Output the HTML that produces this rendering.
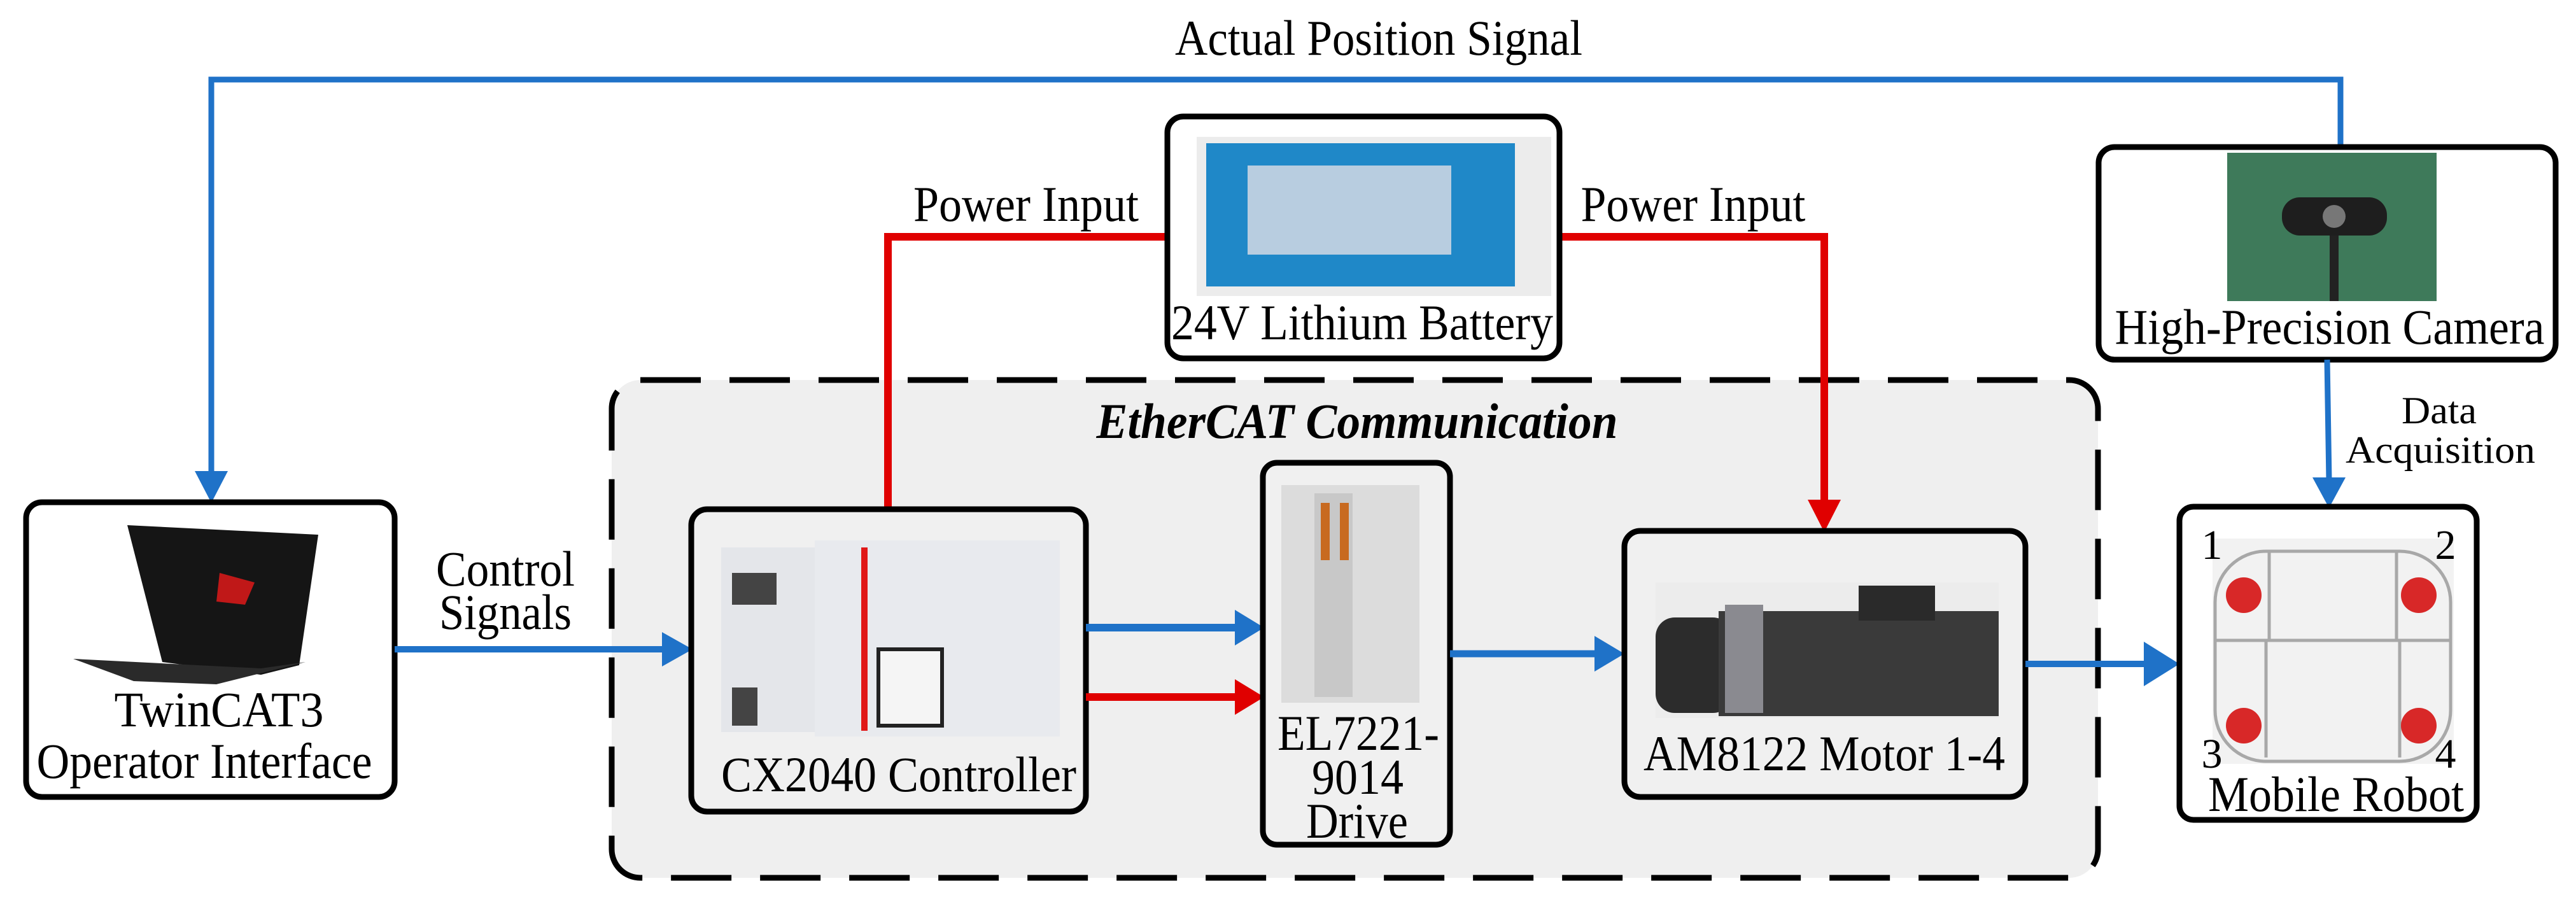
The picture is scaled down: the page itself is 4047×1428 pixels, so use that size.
<!DOCTYPE html>
<html><head><meta charset="utf-8"><style>html,body{margin:0;padding:0;background:#fff}svg{display:block}svg text{font-family:"Liberation Serif","Times New Roman","Tinos","DejaVu Serif","Noto Serif CJK SC",serif}</style></head><body>
<svg width="4047" height="1428" viewBox="0 0 4047 1428" xmlns="http://www.w3.org/2000/svg" fill="#000">
<rect x="961" y="597" width="2335" height="782" rx="45" fill="#efefef"/>
<rect x="961" y="597" width="2335" height="782" rx="45" fill="none" stroke="#000" stroke-width="9" stroke-dasharray="95,45"/>
<text x="2132" y="688" font-size="78" font-weight="bold" font-style="italic" text-anchor="middle" textLength="819" lengthAdjust="spacingAndGlyphs">EtherCAT  Communication</text>

<polyline points="3677,231 3677,125 332,125 332,745" fill="none" stroke="#1f72c8" stroke-width="9"/>
<polygon points="306,740 358,740 332,790" fill="#1f72c8"/>
<text x="2166" y="86" font-size="78" text-anchor="middle" textLength="640" lengthAdjust="spacingAndGlyphs">Actual Position Signal</text>

<polyline points="1834,372 1395,372 1395,830" fill="none" stroke="#e00000" stroke-width="12"/>
<polygon points="1369,825 1421,825 1395,878" fill="#e00000"/>
<text x="1612" y="347" font-size="78" text-anchor="middle" textLength="354" lengthAdjust="spacingAndGlyphs">Power Input</text>
<polyline points="2450,372 2866,372 2866,790" fill="none" stroke="#e00000" stroke-width="12"/>
<polygon points="2840,785 2892,785 2866,836" fill="#e00000"/>
<text x="2660" y="347" font-size="78" text-anchor="middle" textLength="353" lengthAdjust="spacingAndGlyphs">Power Input</text>

<rect x="41" y="789" width="579" height="463" rx="25" fill="#fff" stroke="#000" stroke-width="9"/>
<polygon points="200,825 500,840 470,1045 410,1060 255,1040" fill="#151515"/>
<polygon points="115,1035 410,1050 480,1040 340,1075 210,1070" fill="#2a2a2a"/>
<polygon points="345,900 400,915 385,950 340,945" fill="#c01818"/>
<text x="344" y="1141" font-size="78" text-anchor="middle" textLength="329" lengthAdjust="spacingAndGlyphs">TwinCAT3</text>
<text x="321" y="1222" font-size="78" text-anchor="middle" textLength="527" lengthAdjust="spacingAndGlyphs">Operator Interface</text>

<line x1="620" y1="1020" x2="1045" y2="1020" stroke="#1f72c8" stroke-width="10"/>
<polygon points="1040,993 1088,1020 1040,1047" fill="#1f72c8"/>
<text x="794" y="920" font-size="78" text-anchor="middle" textLength="218" lengthAdjust="spacingAndGlyphs">Control</text>
<text x="794" y="988" font-size="78" text-anchor="middle" textLength="208" lengthAdjust="spacingAndGlyphs">Signals</text>

<rect x="1834" y="183" width="616" height="380" rx="25" fill="#fff" stroke="#000" stroke-width="9"/>
<rect x="1880" y="215" width="557" height="250" fill="#ececec"/>
<rect x="1895" y="225" width="485" height="225" fill="#1f88c8"/>
<rect x="1960" y="260" width="320" height="140" fill="#b8cde0"/>
<text x="2140" y="533" font-size="78" text-anchor="middle" textLength="600" lengthAdjust="spacingAndGlyphs">24V Lithium Battery</text>

<rect x="3297" y="231" width="718" height="334" rx="25" fill="#fff" stroke="#000" stroke-width="9"/>
<rect x="3499" y="240" width="329" height="233" fill="#3e7a5a"/>
<rect x="3585" y="310" width="165" height="60" rx="28" fill="#1e1e1e"/>
<rect x="3660" y="370" width="14" height="103" fill="#222"/>
<circle cx="3667" cy="340" r="18" fill="#777"/>
<text x="3660" y="540" font-size="78" text-anchor="middle" textLength="675" lengthAdjust="spacingAndGlyphs">High-Precision Camera</text>

<line x1="3656" y1="565" x2="3659" y2="755" stroke="#1f72c8" stroke-width="9"/>
<polygon points="3633,750 3685,750 3659,798" fill="#1f72c8"/>
<text x="3832" y="665" font-size="60" text-anchor="middle" textLength="118" lengthAdjust="spacingAndGlyphs">Data</text>
<text x="3834" y="727" font-size="60" text-anchor="middle" textLength="298" lengthAdjust="spacingAndGlyphs">Acquisition</text>

<rect x="1086" y="800" width="620" height="475" rx="25" fill="#f0f0f0" stroke="#000" stroke-width="9"/>
<rect x="1133" y="860" width="160" height="290" fill="#e4e6ea"/>
<rect x="1280" y="849" width="385" height="308" fill="#e8eaee"/>
<rect x="1353" y="860" width="10" height="288" fill="#e01818"/>
<rect x="1380" y="1020" width="100" height="120" fill="#f5f5f5" stroke="#222" stroke-width="6"/>
<rect x="1150" y="900" width="70" height="50" fill="#444"/>
<rect x="1150" y="1080" width="40" height="60" fill="#444"/>
<text x="1412" y="1243" font-size="78" text-anchor="middle" textLength="558" lengthAdjust="spacingAndGlyphs">CX2040 Controller</text>

<line x1="1706" y1="986" x2="1945" y2="986" stroke="#1f72c8" stroke-width="12"/>
<polygon points="1940,958 1986,986 1940,1014" fill="#1f72c8"/>
<line x1="1706" y1="1095" x2="1945" y2="1095" stroke="#e00000" stroke-width="12"/>
<polygon points="1940,1067 1986,1095 1940,1123" fill="#e00000"/>

<rect x="1984" y="727" width="294" height="600" rx="22" fill="#f0f0f0" stroke="#000" stroke-width="9"/>
<rect x="2013" y="762" width="217" height="342" fill="#dcdcdc"/>
<rect x="2065" y="775" width="60" height="320" fill="#c8c8c8"/>
<rect x="2075" y="790" width="14" height="90" fill="#c86a20"/>
<rect x="2105" y="790" width="14" height="90" fill="#c86a20"/>
<text x="2134" y="1178" font-size="78" text-anchor="middle" textLength="254" lengthAdjust="spacingAndGlyphs">EL7221-</text>
<text x="2133" y="1247" font-size="78" text-anchor="middle" textLength="144" lengthAdjust="spacingAndGlyphs">9014</text>
<text x="2132" y="1316" font-size="78" text-anchor="middle" textLength="160" lengthAdjust="spacingAndGlyphs">Drive</text>

<line x1="2278" y1="1027" x2="2510" y2="1027" stroke="#1f72c8" stroke-width="11"/>
<polygon points="2505,999 2552,1027 2505,1055" fill="#1f72c8"/>

<rect x="2552" y="834" width="630" height="418" rx="25" fill="#f0f0f0" stroke="#000" stroke-width="9"/>
<rect x="2601" y="915" width="539" height="213" fill="#ececec"/>
<rect x="2601" y="970" width="120" height="150" rx="30" fill="#2c2c2c"/>
<rect x="2700" y="960" width="440" height="165" fill="#3a3a3a"/>
<rect x="2710" y="950" width="60" height="170" fill="#8a8a90"/>
<rect x="2920" y="920" width="120" height="55" fill="#2a2a2a"/>
<text x="2866" y="1210" font-size="78" text-anchor="middle" textLength="568" lengthAdjust="spacingAndGlyphs">AM8122 Motor 1-4</text>

<line x1="3182" y1="1043" x2="3375" y2="1043" stroke="#1f72c8" stroke-width="10"/>
<polygon points="3368,1008 3424,1043 3368,1078" fill="#1f72c8"/>

<rect x="3424" y="796" width="467" height="492" rx="22" fill="#fff" stroke="#000" stroke-width="9"/>
<rect x="3476" y="846" width="379" height="354" fill="#f2f2f2"/>
<rect x="3480" y="866" width="370" height="330" rx="80" fill="none" stroke="#a8a8a8" stroke-width="5"/>
<line x1="3480" y1="1006" x2="3850" y2="1006" stroke="#a8a8a8" stroke-width="5"/>
<line x1="3565" y1="866" x2="3565" y2="1006" stroke="#a8a8a8" stroke-width="5"/>
<line x1="3765" y1="866" x2="3765" y2="1006" stroke="#a8a8a8" stroke-width="5"/>
<line x1="3560" y1="1006" x2="3560" y2="1190" stroke="#a8a8a8" stroke-width="5"/>
<line x1="3770" y1="1006" x2="3770" y2="1190" stroke="#a8a8a8" stroke-width="5"/>
<circle cx="3525" cy="935" r="28" fill="#d82828"/>
<circle cx="3800" cy="935" r="28" fill="#d82828"/>
<circle cx="3525" cy="1140" r="28" fill="#d82828"/>
<circle cx="3800" cy="1140" r="28" fill="#d82828"/>
<text x="3475" y="878" font-size="66" text-anchor="middle">1</text>
<text x="3842" y="878" font-size="66" text-anchor="middle">2</text>
<text x="3475" y="1206" font-size="66" text-anchor="middle">3</text>
<text x="3842" y="1206" font-size="66" text-anchor="middle">4</text>
<text x="3670" y="1274" font-size="78" text-anchor="middle" textLength="402" lengthAdjust="spacingAndGlyphs">Mobile Robot</text>
</svg>
</body></html>
